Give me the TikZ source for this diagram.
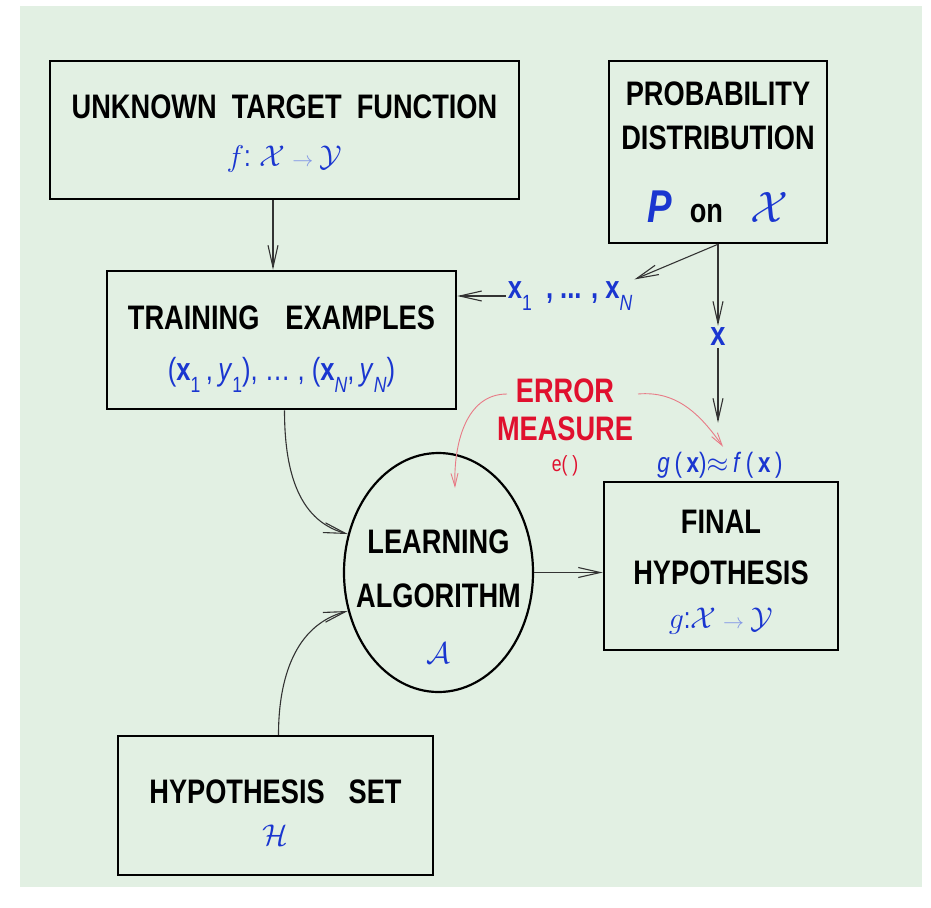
\RequirePackage{fix-cm}
\documentclass[tikz,border=0pt]{standalone}
\usepackage{fontspec}
\setmainfont{Liberation Sans}[FakeStretch=0.8]
\usetikzlibrary{positioning, shapes.geometric, arrows.meta}
\definecolor{paper}{HTML}{E2F0E3}
\definecolor{ink}{HTML}{1A36D0}
\definecolor{pale}{HTML}{7F94E6}
\definecolor{errred}{HTML}{E0102E}
\definecolor{errarc}{HTML}{E87A86}
\definecolor{wire}{HTML}{333333}

\newcommand{\bx}{\textbf{x}}
\newcommand{\lowidx}[1]{\raisebox{-0.7ex}{\fontsize{22}{22}\selectfont #1}}
\newcommand{\cmap}{$\mathcal{X}\mathbin{\textcolor{pale}{\scriptstyle\rightarrow}}\mathcal{Y}$}
\newcommand{\topstrut}[1]{\rule{0pt}{#1}}

\tikzset{
  box/.style={draw=black, line width=2.5pt, align=center, inner sep=0pt,
              font=\fontsize{34}{44}\selectfont\bfseries},
  conn/.style={draw=wire, line width=1.1pt, -{Straight Barb[length=22pt,width=10pt]}},
  errarrow/.style={draw=errarc, line width=0.9pt, -{Straight Barb[length=13pt,width=7pt]}},
  mathlbl/.style={text=ink, inner sep=2pt, font=\fontsize{32}{34}\selectfont}
}

\begin{document}
\begin{tikzpicture}[x=1pt,y=-1pt]
    \useasboundingbox (0,0) rectangle (931,907);
    \fill[paper] (20,6) rectangle (922,887);

    % boxes
    \node[box, minimum width=469pt, minimum height=138pt] (target) at (284.5,130) {
      \topstrut{31pt}UNKNOWN~~TARGET~~FUNCTION\\[4pt]
      {\mdseries\color{ink}\fontsize{30}{30}\selectfont $f$: \cmap}
    };
    \node[box, minimum width=218pt, minimum height=182pt] (prob) at (718,152) {
      PROBABILITY\\DISTRIBUTION\\[29pt]
      {\color{ink}\fontsize{46}{46}\selectfont\itshape P}\hspace{18pt}on\hspace{28pt}{\color{ink}\fontsize{44}{44}\selectfont$\mathcal{X}$}
    };
    \node[box, minimum width=349pt, minimum height=138pt] (train) at (281.5,340) {
      \topstrut{42pt}TRAINING\hspace{26pt}EXAMPLES\\[7pt]
      {\mdseries\color{ink}\fontsize{32}{32}\selectfont (\bx\lowidx{1}\,,\,\textit{y}\lowidx{1}), \dots\ , (\bx\lowidx{\textit{N}},\,\textit{y}\lowidx{\textit{N}})}
    };
    \node[box, minimum width=234pt, minimum height=168pt] (final) at (721,566) {
      \topstrut{35pt}FINAL\\[7pt]HYPOTHESIS\\
      {\mdseries\color{ink}\fontsize{30}{30}\selectfont $g$:\cmap}
    };
    \node[box, minimum width=315pt, minimum height=139pt] (hypset) at (275.5,805.5) {
      \topstrut{37pt}HYPOTHESIS\hspace{24pt}SET\\[-2pt]
      {\mdseries\color{ink}\fontsize{30}{30}\selectfont $\mathcal{H}$}
    };

    % learning algorithm
    \node[draw, ellipse, line width=2.2pt, minimum width=189pt, minimum height=239pt, inner sep=0pt] (algo) at (438.5,572.5) {};
    \node[align=center, font=\fontsize{34}{44}\selectfont\bfseries] (algotext) at ([yshift=-24pt]algo.center) {
      LEARNING\\[10pt]ALGORITHM\\[12pt]
      {\mdseries\color{ink}\fontsize{30}{30}\selectfont $\mathcal{A}$}
    };

    % labels
    \node[mathlbl] (samples) at (570,296) {\bx\lowidx{1}\ \ \textbf{, ... ,} \bx\lowidx{\textit{N}}};
    \node[mathlbl, font=\fontsize{34}{34}\selectfont\bfseries] (xpt) at (718,337) {x};
    \node[mathlbl, font=\fontsize{28}{30}\selectfont] (gfx) at (720,465) {\textit{g}\,(\,\bx)$\approx$\,\textit{f}\,(\,\bx\,)};
    \node[align=center, text=errred, font=\fontsize{34}{38}\selectfont\bfseries] (err) at (565,427) {
      ERROR\\MEASURE\\[-7pt]{\mdseries\fontsize{22}{22}\selectfont e(\ )}
    };

    % connectors
    \draw[conn] ([xshift=-11.5pt]target.south) -- ([xshift=-11.5pt]target.south |- train.north);
    \draw[conn] (prob.south) -- (samples.north east);
    \draw[conn] (samples.west) -- (samples.west -| train.east);
    \draw[conn] (prob.south) -- (xpt.north);
    \draw[conn] (xpt.south) -- ([yshift=27pt]gfx.north -| xpt.south);
    \draw[conn] ([xshift=3pt]train.south) to[out=-90, in=165] (algo.157);
    \draw[conn] ([xshift=3pt]hypset.north) to[out=90, in=195] (algo.203);
    \draw[conn] (algo.east) -- (algo.east -| final.west);
    \draw[errarrow] ([shift={(-58,-33)}]err.center) to[out=180, in=92] ([shift={(16.5,-84.5)}]algo.center);
    \draw[errarrow] ([shift={(73,-33)}]err.center) to[out=5, in=125] ([xshift=3pt,yshift=3pt]gfx.north);
\end{tikzpicture}
\end{document}
